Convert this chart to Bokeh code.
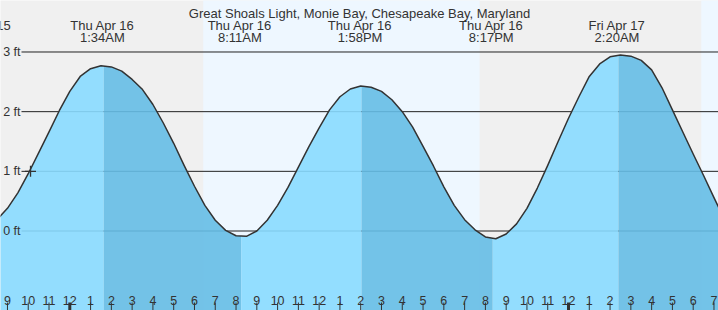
import numpy as np
from bokeh.plotting import figure
from bokeh.models import Range1d, ColumnDataSource
from bokeh.core.properties import value
from bokeh.embed import file_html
from bokeh.resources import INLINE

# ---------------- data ----------------
title = "Great Shoals Light, Monie Bay, Chesapeake Bay, Maryland"

# tide height (ft), every half hour, starting at 21:30 Wed Apr 15
# (time measured in hours from Thu Apr 16 00:00)
t_start = -3.5
t_step = 0.5
heights = [
    0.19, 0.38, 0.64, 0.96, 1.31, 1.66, 2.02, 2.34,
    2.59, 2.72, 2.77, 2.75, 2.68, 2.54, 2.37, 2.12,
    1.81, 1.47, 1.10, 0.75, 0.43, 0.18, 0.01, -0.08,
    -0.09, 0.00, 0.18, 0.43, 0.73, 1.07, 1.41, 1.73,
    2.03, 2.25, 2.38, 2.43, 2.41, 2.34, 2.20, 2.00,
    1.74, 1.42, 1.09, 0.74, 0.43, 0.19, 0.02, -0.10,
    -0.13, -0.05, 0.12, 0.38, 0.72, 1.10, 1.50, 1.89,
    2.25, 2.59, 2.80, 2.92, 2.95, 2.93, 2.86, 2.70,
    2.40, 2.03, 1.66, 1.29, 0.93, 0.56, 0.20,
]

# high / low tide events
event_times = [-4.45, 1.567, 8.183, 13.967, 20.283, 26.333]
event_types = ["L", "H", "L", "H", "L", "H"]
event_days = ["Wed Apr 15", "Thu Apr 16", "Thu Apr 16", "Thu Apr 16", "Thu Apr 16", "Fri Apr 17"]
event_clock = ["7:33PM", "1:34AM", "8:11AM", "1:58PM", "8:17PM", "2:20AM"]

# daylight periods
sun_rise = [6.42, 30.39]
sun_set = [19.72, 43.70]

# bottom hour ticks
hour_ticks = list(range(-3, 32))
hour_labels = ["9", "10", "11", "12", "1", "2", "3", "4", "5", "6", "7", "8",
               "9", "10", "11", "12", "1", "2", "3", "4", "5", "6", "7", "8",
               "9", "10", "11", "12", "1", "2", "3", "4", "5", "6", "7"]

# height axis
y_levels = [0, 1, 2, 3]
y_labels = ["0 ft", "1 ft", "2 ft", "3 ft"]

# current-time marker
now_time = [-1.89]
now_height = [1.0]

# ---------------- layout / style ----------------
W, H = 718, 310
x0, x1 = -3.335, 31.218
sy = 59.67                 # px per ft
zero_px = 230.5
y_top = zero_px / sy
y_bot = -(H - zero_px) / sy
sx = W / (x1 - x0)

def xpx(px):
    return x0 + px / sx

def ypx(py):
    return y_top - py / sy

FONT = value("Liberation Sans")
TXT = "#333333"
NIGHT = "#f0f0f0"
DAY = "#eef7ff"
LIGHT = "#88daff"
DARK = "#65bde5"
shade_offset = 0.07

p = figure(width=W, height=H, x_range=Range1d(x0, x1), y_range=Range1d(y_bot, y_top),
           output_backend="svg", toolbar_location=None,
           x_axis_location=None, y_axis_location=None, min_border=0)
p.grid.visible = False
p.outline_line_color = None
p.background_fill_color = NIGHT
p.border_fill_color = NIGHT

# daylight
p.quad(left=sun_rise, right=sun_set, bottom=y_bot - 1, top=y_top + 1,
       fill_color=DAY, line_color=None)

# grid lines
p.segment(x0=[xpx(21)] * len(y_levels), x1=[x1 + 1] * len(y_levels),
          y0=y_levels, y1=y_levels, line_color="#222222", line_width=1)

# tide fill: rising light, falling dark
times = t_start + t_step * np.arange(len(heights))
h = np.array(heights, dtype=float)
ext = [(t + shade_offset, ty) for t, ty in zip(event_times, event_types)]
inner = [(t, ty) for t, ty in ext if times[0] < t < times[-1]]
bounds = [times[0]] + [t for t, _ in inner] + [times[-1]]
xs_list, ys_list, cols = [], [], []
for a, b in zip(bounds[:-1], bounds[1:]):
    prev = [ty for t, ty in ext if t <= a + 1e-9]
    falling = prev[-1] == "H" if prev else False
    m = (times > a) & (times < b)
    xs = [a] + list(times[m]) + [b, b, a]
    ys = ([float(np.interp(a, times, h))] + list(h[m]) +
          [float(np.interp(b, times, h)), y_bot - 1, y_bot - 1])
    xs_list.append(xs)
    ys_list.append(ys)
    cols.append(DARK if falling else LIGHT)
p.patches(xs_list, ys_list, fill_color=cols, fill_alpha=0.9, line_color=None)

# tide curve
p.line(times, h, line_color="#333333", line_width=1.5, line_join="round")

# now marker
p.scatter(now_time, now_height, marker="cross", size=11, line_color="#333333", line_width=1.3)

# title
p.text(x=[(x0 + x1) / 2], y=[ypx(12.6)], text=[title], text_align="center",
       text_baseline="alphabetic", text_font=FONT, text_font_size="13px", text_color=TXT)

# event labels
p.text(x=event_times, y=[ypx(24.5)] * len(event_times), text=event_days,
       text_align="center", text_baseline="alphabetic", text_font=FONT,
       text_font_size="13px", text_color=TXT)
p.text(x=event_times, y=[ypx(36.5)] * len(event_times), text=event_clock,
       text_align="center", text_baseline="alphabetic", text_font=FONT,
       text_font_size="13px", text_color=TXT)

# y labels
p.text(x=[xpx(20)] * len(y_levels), y=y_levels, text=y_labels, text_align="right",
       text_baseline="middle", text_font=FONT, text_font_size="12.5px", text_color=TXT)

# hour ticks and labels
tick_src = ColumnDataSource(dict(
    x=hour_ticks,
    y0=[ypx(302)] * len(hour_ticks),
    y1=[y_bot - 1] * len(hour_ticks),
    w=[3 if hh % 24 == 0 else 1 for hh in hour_ticks],
))
p.segment(x0="x", x1="x", y0="y0", y1="y1", line_width="w", line_color="#333333", source=tick_src)
p.text(x=hour_ticks, y=[ypx(300)] * len(hour_ticks), text=hour_labels,
       text_align="center", text_baseline="alphabetic", text_font=FONT,
       text_font_size="12.5px", text_color=TXT)

open("out.html", "w").write(file_html(p, INLINE))
